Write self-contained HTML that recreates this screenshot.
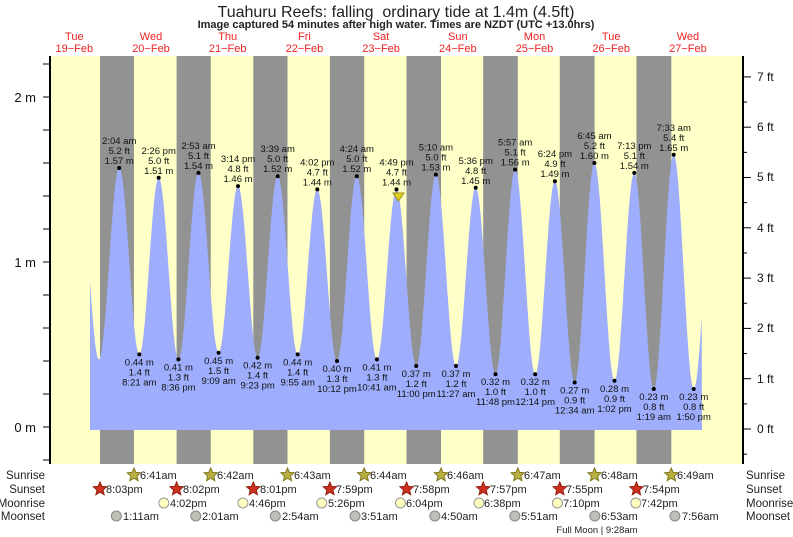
<!DOCTYPE html>
<html><head><meta charset="utf-8"><style>
html,body{margin:0;padding:0;background:#fff;}
svg{display:block;font-family:"Liberation Sans",sans-serif;}
</style></head><body>
<svg id="s" width="793" height="537" viewBox="0 0 793 537">
<rect x="50" y="56" width="693" height="408" fill="#ffffc8"/>
<g id="bands" fill="#929292"></g>
<path id="tide" fill="#9eaefc" d=""/>
<!-- title -->
<text x="396" y="17" text-anchor="middle" font-size="16" fill="#222">Tuahuru Reefs: falling&#160; ordinary tide at 1.4m (4.5ft)</text>
<text x="396" y="28" text-anchor="middle" font-size="11" font-weight="bold" fill="#222">Image captured 54 minutes after high water. Times are NZDT (UTC +13.0hrs)</text>
<g font-size="11" fill="#ee2222" text-anchor="middle">
<text x="74.3" y="40">Tue</text><text x="74.3" y="52">19−Feb</text>
<text x="151" y="40">Wed</text><text x="151" y="52">20−Feb</text>
<text x="227.7" y="40">Thu</text><text x="227.7" y="52">21−Feb</text>
<text x="304.4" y="40">Fri</text><text x="304.4" y="52">22−Feb</text>
<text x="381.1" y="40">Sat</text><text x="381.1" y="52">23−Feb</text>
<text x="457.8" y="40">Sun</text><text x="457.8" y="52">24−Feb</text>
<text x="534.5" y="40">Mon</text><text x="534.5" y="52">25−Feb</text>
<text x="611.2" y="40">Tue</text><text x="611.2" y="52">26−Feb</text>
<text x="687.9" y="40">Wed</text><text x="687.9" y="52">27−Feb</text>
</g>
<!-- axes -->
<line x1="50" y1="56" x2="50" y2="464" stroke="#000" stroke-width="2"/>
<line x1="743" y1="56" x2="743" y2="464" stroke="#000" stroke-width="2"/>
<g id="ticks" stroke="#000" stroke-width="1"></g>
<g font-size="13" fill="#111">
<text x="36" y="102" text-anchor="end">2 m</text>
<text x="36" y="267" text-anchor="end">1 m</text>
<text x="36" y="432" text-anchor="end">0 m</text>
</g>
<g font-size="12" fill="#111" id="ftl">
<text x="757" y="433">0 ft</text>
<text x="757" y="383">1 ft</text>
<text x="757" y="332">2 ft</text>
<text x="757" y="282">3 ft</text>
<text x="757" y="232">4 ft</text>
<text x="757" y="181">5 ft</text>
<text x="757" y="131">6 ft</text>
<text x="757" y="81">7 ft</text>
</g>
<!-- high labels -->
<g font-size="9.5" fill="#111" text-anchor="middle">
<g transform="translate(119.2,168)"><circle r="2" fill="#000"/><text y="-4">1.57 m</text><text y="-14">5.2 ft</text><text y="-24">2:04 am</text></g>
<g transform="translate(158.7,177.8)"><circle r="2" fill="#000"/><text y="-4">1.51 m</text><text y="-14">5.0 ft</text><text y="-24">2:26 pm</text></g>
<g transform="translate(198.5,172.9)"><circle r="2" fill="#000"/><text y="-4">1.54 m</text><text y="-14">5.1 ft</text><text y="-24">2:53 am</text></g>
<g transform="translate(238,186.1)"><circle r="2" fill="#000"/><text y="-4">1.46 m</text><text y="-14">4.8 ft</text><text y="-24">3:14 pm</text></g>
<g transform="translate(277.7,176.2)"><circle r="2" fill="#000"/><text y="-4">1.52 m</text><text y="-14">5.0 ft</text><text y="-24">3:39 am</text></g>
<g transform="translate(317.3,189.4)"><circle r="2" fill="#000"/><text y="-4">1.44 m</text><text y="-14">4.7 ft</text><text y="-24">4:02 pm</text></g>
<g transform="translate(356.8,176.2)"><circle r="2" fill="#000"/><text y="-4">1.52 m</text><text y="-14">5.0 ft</text><text y="-24">4:24 am</text></g>
<g transform="translate(396.5,189.4)"><circle r="2" fill="#000"/><text y="-4">1.44 m</text><text y="-14">4.7 ft</text><text y="-24">4:49 pm</text></g>
<g transform="translate(435.9,174.6)"><circle r="2" fill="#000"/><text y="-4">1.53 m</text><text y="-14">5.0 ft</text><text y="-24">5:10 am</text></g>
<g transform="translate(475.7,187.8)"><circle r="2" fill="#000"/><text y="-4">1.45 m</text><text y="-14">4.8 ft</text><text y="-24">5:36 pm</text></g>
<g transform="translate(515.1,169.6)"><circle r="2" fill="#000"/><text y="-4">1.56 m</text><text y="-14">5.1 ft</text><text y="-24">5:57 am</text></g>
<g transform="translate(554.9,181.2)"><circle r="2" fill="#000"/><text y="-4">1.49 m</text><text y="-14">4.9 ft</text><text y="-24">6:24 pm</text></g>
<g transform="translate(594.4,163)"><circle r="2" fill="#000"/><text y="-4">1.60 m</text><text y="-14">5.2 ft</text><text y="-24">6:45 am</text></g>
<g transform="translate(634.3,172.9)"><circle r="2" fill="#000"/><text y="-4">1.54 m</text><text y="-14">5.1 ft</text><text y="-24">7:13 pm</text></g>
<g transform="translate(673.7,154.8)"><circle r="2" fill="#000"/><text y="-4">1.65 m</text><text y="-14">5.4 ft</text><text y="-24">7:33 am</text></g>
</g>
<polygon points="393,193 404,193 398.5,201" fill="#e0d020" stroke="#a09010" stroke-width="1"/>
<!-- low labels -->
<g font-size="9.5" fill="#111" text-anchor="middle">
<g transform="translate(139.3,354.4)"><circle r="2" fill="#000"/><text y="11">0.44 m</text><text y="21">1.4 ft</text><text y="31">8:21 am</text></g>
<g transform="translate(178.4,359.4)"><circle r="2" fill="#000"/><text y="11">0.41 m</text><text y="21">1.3 ft</text><text y="31">8:36 pm</text></g>
<g transform="translate(218.6,352.8)"><circle r="2" fill="#000"/><text y="11">0.45 m</text><text y="21">1.5 ft</text><text y="31">9:09 am</text></g>
<g transform="translate(257.6,357.7)"><circle r="2" fill="#000"/><text y="11">0.42 m</text><text y="21">1.4 ft</text><text y="31">9:23 pm</text></g>
<g transform="translate(297.7,354.4)"><circle r="2" fill="#000"/><text y="11">0.44 m</text><text y="21">1.4 ft</text><text y="31">9:55 am</text></g>
<g transform="translate(337,361)"><circle r="2" fill="#000"/><text y="11">0.40 m</text><text y="21">1.3 ft</text><text y="31">10:12 pm</text></g>
<g transform="translate(376.9,359.4)"><circle r="2" fill="#000"/><text y="11">0.41 m</text><text y="21">1.3 ft</text><text y="31">10:41 am</text></g>
<g transform="translate(416.2,366)"><circle r="2" fill="#000"/><text y="11">0.37 m</text><text y="21">1.2 ft</text><text y="31">11:00 pm</text></g>
<g transform="translate(456,366)"><circle r="2" fill="#000"/><text y="11">0.37 m</text><text y="21">1.2 ft</text><text y="31">11:27 am</text></g>
<g transform="translate(495.5,374.2)"><circle r="2" fill="#000"/><text y="11">0.32 m</text><text y="21">1.0 ft</text><text y="31">11:48 pm</text></g>
<g transform="translate(535.2,374.2)"><circle r="2" fill="#000"/><text y="11">0.32 m</text><text y="21">1.0 ft</text><text y="31">12:14 pm</text></g>
<g transform="translate(574.7,382.5)"><circle r="2" fill="#000"/><text y="11">0.27 m</text><text y="21">0.9 ft</text><text y="31">12:34 am</text></g>
<g transform="translate(614.5,380.8)"><circle r="2" fill="#000"/><text y="11">0.28 m</text><text y="21">0.9 ft</text><text y="31">1:02 pm</text></g>
<g transform="translate(653.8,389)"><circle r="2" fill="#000"/><text y="11">0.23 m</text><text y="21">0.8 ft</text><text y="31">1:19 am</text></g>
<g transform="translate(693.7,389)"><circle r="2" fill="#000"/><text y="11">0.23 m</text><text y="21">0.8 ft</text><text y="31">1:50 pm</text></g>
</g>
<!-- bottom rows -->
<g font-size="11.5" fill="#222">
<text x="45" y="479" text-anchor="end">Sunrise</text>
<text x="45" y="493" text-anchor="end">Sunset</text>
<text x="45" y="507" text-anchor="end">Moonrise</text>
<text x="45" y="520" text-anchor="end">Moonset</text>
<text x="746" y="479">Sunrise</text>
<text x="746" y="493">Sunset</text>
<text x="746" y="507">Moonrise</text>
<text x="746" y="520">Moonset</text>
</g>
<g id="icons"></g>
<g font-size="11" fill="#222">
<text x="140" y="479">6:41am</text><text x="217" y="479">6:42am</text><text x="294" y="479">6:43am</text><text x="370" y="479">6:44am</text><text x="447" y="479">6:46am</text><text x="524" y="479">6:47am</text><text x="601" y="479">6:48am</text><text x="677" y="479">6:49am</text>
<text x="106" y="493">8:03pm</text><text x="183" y="493">8:02pm</text><text x="260" y="493">8:01pm</text><text x="336" y="493">7:59pm</text><text x="413" y="493">7:58pm</text><text x="490" y="493">7:57pm</text><text x="566" y="493">7:55pm</text><text x="643" y="493">7:54pm</text>
<text x="170" y="507">4:02pm</text><text x="249" y="507">4:46pm</text><text x="328" y="507">5:26pm</text><text x="406" y="507">6:04pm</text><text x="484" y="507">6:38pm</text><text x="563" y="507">7:10pm</text><text x="641" y="507">7:42pm</text>
<text x="123" y="520">1:11am</text><text x="202" y="520">2:01am</text><text x="282" y="520">2:54am</text><text x="361" y="520">3:51am</text><text x="441" y="520">4:50am</text><text x="521" y="520">5:51am</text><text x="601" y="520">6:53am</text><text x="682" y="520">7:56am</text>
</g>
<text x="597" y="533" font-size="9.5" fill="#222" text-anchor="middle">Full Moon | 9:28am</text>
</svg>
<script>
var X=function(t){return 35.9+t*3.196};var Y=function(h){return 427-h*165};
var ns="http://www.w3.org/2000/svg";
function el(p,n,a){var e=document.createElementNS(ns,n);for(var k in a)e.setAttribute(k,a[k]);p.appendChild(e);return e;}
var ss=[20.05,20.03,20.02,19.98,19.97,19.95,19.92,19.9],sr=[6.68,6.70,6.72,6.73,6.77,6.78,6.80,6.82];
var B=document.getElementById('bands');
for(var d=0;d<8;d++){var a=X(24*d+ss[d]),b=X(24*(d+1)+sr[d]);el(B,'rect',{x:a,y:56,width:b-a,height:408});}
var ex=[[13.5,1.55],[19.7,0.41],[26.07,1.57],[32.35,0.44],[38.43,1.51],[44.6,0.41],[50.88,1.54],[57.15,0.45],[63.23,1.46],[69.38,0.42],[75.65,1.52],[81.92,0.44],[88.03,1.44],[94.2,0.40],[100.4,1.52],[106.68,0.41],[112.82,1.44],[119.0,0.37],[125.17,1.53],[131.45,0.37],[137.6,1.45],[143.8,0.32],[149.95,1.56],[156.23,0.32],[162.4,1.49],[168.57,0.27],[174.75,1.60],[181.03,0.28],[187.22,1.54],[193.32,0.23],[199.55,1.65],[205.83,0.23],[212.2,1.55]];
function H(t){for(var i=0;i<ex.length-1;i++){if(t>=ex[i][0]&&t<=ex[i+1][0]){var f=(t-ex[i][0])/(ex[i+1][0]-ex[i][0]);var h0=ex[i][1],h1=ex[i+1][1];return h1+(h0-h1)*(1+Math.cos(Math.PI*f))/2;}}return 0.5;}
var t0=(90-35.9)/3.196,t1=(702-35.9)/3.196,p="M90,430";
for(var t=t0;t<=t1;t+=0.1){p+=" L"+X(t).toFixed(1)+","+Y(H(t)).toFixed(1);}
p+=" L702,430 Z";document.getElementById('tide').setAttribute('d',p);
var T=document.getElementById('ticks');
for(var m=-0.2;m<=2.4;m+=0.2){var y=Y(m);if(y<56||y>464)continue;el(T,'line',{x1:43,x2:50,y1:y,y2:y});}
for(var f=-0.5;f<=7.5;f+=0.5){var y=429-f*50.3;if(y<56||y>464)continue;el(T,'line',{x1:743,x2:(f%1==0?751:747),y1:y,y2:y});}
var I=document.getElementById('icons');
function star(cx,cy,fill,st){var pts=[];for(var i=0;i<10;i++){var r=i%2?3.2:7,a=-Math.PI/2+i*Math.PI/5;pts.push((cx+r*Math.cos(a)).toFixed(1)+","+(cy+r*Math.sin(a)).toFixed(1));}el(I,'polygon',{points:pts.join(' '),fill:fill,stroke:st,'stroke-width':1});}
for(var d=0;d<8;d++){star(X(24*(d+1)+sr[d]),475,'#b8b040','#807820');star(X(24*d+ss[d]),489,'#d03020','#902010');}
var mr=[16.03,16.77,17.43,18.07,18.63,19.17,19.7];for(var i=0;i<7;i++)el(I,'circle',{cx:X(24*(i+1)+mr[i]),cy:503,r:5,fill:'#ffffc0',stroke:'#999'});
var ms=[1.18,2.02,2.9,3.85,4.83,5.85,6.88,7.93];for(var i=0;i<8;i++)el(I,'circle',{cx:X(24*(i+1)+ms[i]),cy:516,r:5,fill:'#c0c0b8',stroke:'#888'});
</script>
</body></html>
